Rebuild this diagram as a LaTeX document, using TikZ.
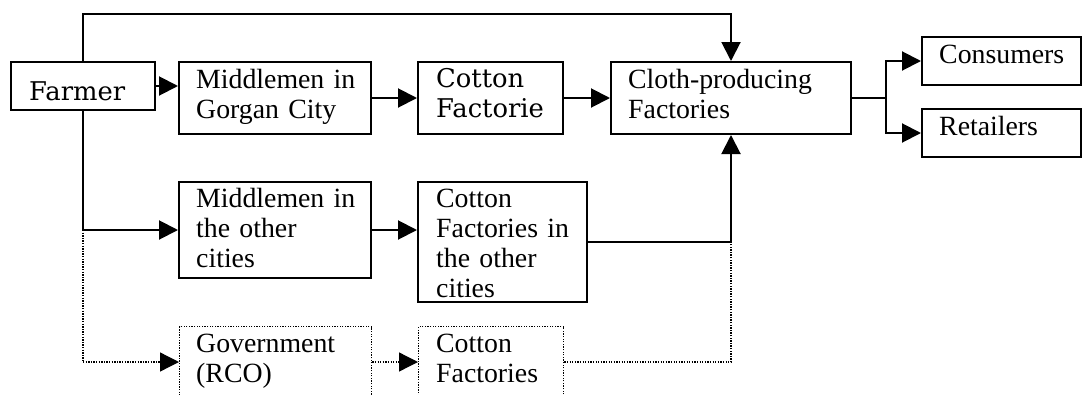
\documentclass[tikz,border=0pt]{standalone}
\usepackage{fontspec}
\setmainfont{Liberation Serif}
\newfontfamily\centfont{DejaVu Serif}
\usetikzlibrary{arrows.meta}
\tikzset{
  frame/.style={draw, line width=2pt, inner sep=0pt},
  dotframe/.style={draw, line width=1.3pt, inner sep=0pt, dash pattern=on 1.3pt off 1.3pt},
  lbl/.style={inner sep=0pt, anchor=base west, align=left, text width=260pt,
    font=\fontsize{27.8}{30}\selectfont},
  clbl/.style={lbl, font=\centfont\fontsize{25.8}{30}\selectfont},
  link/.style={line width=2pt},
  dotlink/.style={line width=1.3pt, dash pattern=on 1.3pt off 1.3pt},
  arr/.style={-{Triangle[length=19pt,width=19pt]}},
}
\begin{document}
\begin{tikzpicture}[x=1pt,y=1pt]
\useasboundingbox (0,0) rectangle (1082,-394);
\clip (0,0) rectangle (1082,-394);
% boxes
\node[frame, minimum width=144, minimum height=48] (fa) at (83,-86) {};
\node[frame, minimum width=192, minimum height=72] (mg) at (275,-98) {};
\node[frame, minimum width=145, minimum height=72] (cf) at (490.5,-98) {};
\node[frame, minimum width=240, minimum height=72] (cl) at (731,-98) {};
\node[frame, minimum width=159, minimum height=48] (co) at (1001.5,-61) {};
\node[frame, minimum width=159, minimum height=48] (re) at (1001.5,-133) {};
\node[frame, minimum width=192, minimum height=96] (mo) at (275,-230) {};
\node[frame, minimum width=169, minimum height=120] (cfo) at (502.5,-242) {};
\node[dotframe, anchor=north west, minimum width=192, minimum height=110] (gov) at (179,-326) {};
\node[dotframe, anchor=north west, minimum width=145, minimum height=110] (cfg) at (418,-326) {};
% texts
\node[clbl] (tfa) at (29,-100) {Farmer};
\node[lbl] (tmg) at (196,-88) {Middlemen in\\Gorgan City};
\node[clbl] (tcf) at (436,-87) {Cotton\\Factorie};
\node[lbl] (tcl) at (628,-88) {Cloth-producing\\Factories};
\node[lbl] (tco) at (939,-63) {Consumers};
\node[lbl] (tre) at (939,-135) {Retailers};
\node[lbl] (tmo) at (196,-207) {Middlemen in\\the other\\cities};
\node[lbl] (tcfo) at (436,-207) {Cotton\\Factories in\\the other\\cities};
\node[lbl] (tgov) at (196,-352) {Government\\(RCO)};
\node[lbl] (tcfg) at (436,-352) {Cotton\\Factories};
% junction points
\coordinate (top) at (83,-14);
\coordinate (j1) at (fa.south |- mo.west);
\coordinate (j2) at (83,-362);
\coordinate (j3) at (cl.south |- cfo.east);
\coordinate (split) at (886,-98);
% connectors
\draw[link, arr] (fa.north) -- (top) -| (cl.north);
\draw[link, arr] (fa.east) -- (fa.east -| mg.west);
\draw[link, arr] (mg.east) -- (cf.west);
\draw[link, arr] (cf.east) -- (cl.west);
\draw[link] (cl.east) -- (split);
\draw[link, arr] (split) |- (co.west);
\draw[link, arr] (split) |- (re.west);
\draw[link] (fa.south) -- (j1);
\draw[link, arr] (j1) -- (mo.west);
\draw[link, arr] (mo.east) -- (mo.east -| cfo.west);
\draw[link] (cfo.east) -- (j3);
\draw[link, arr] (j3) -- (cl.south);
\draw[dotlink] (j1) -- (j2);
\draw[dotlink, arr] (j2) -- (j2 -| gov.west);
\draw[dotlink, arr] (j2 -| gov.east) -- (j2 -| cfg.west);
\draw[dotlink] (j2 -| cfg.east) -| (j3);
\end{tikzpicture}
\end{document}
